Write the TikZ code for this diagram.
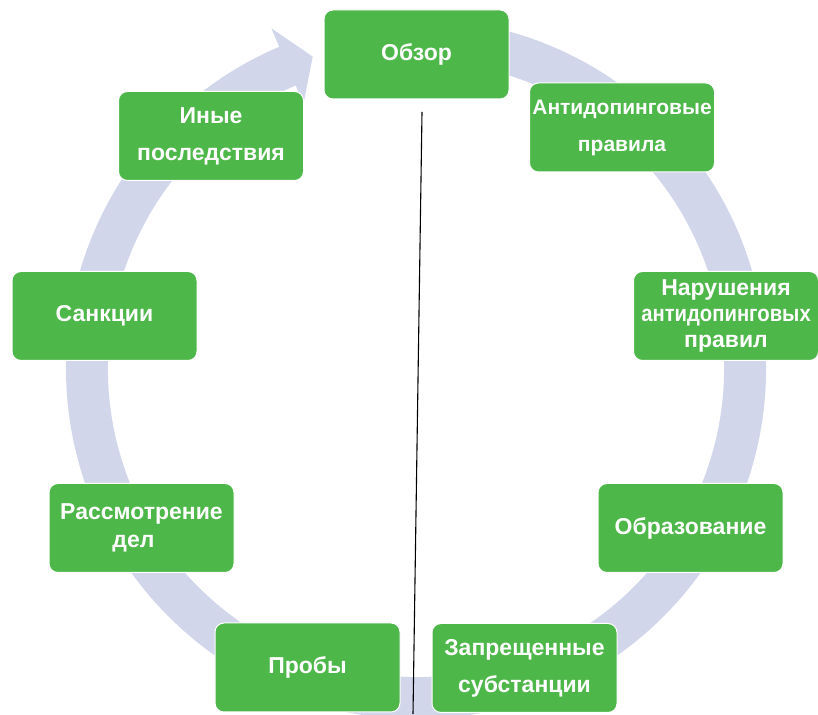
\documentclass[tikz,border=0pt]{standalone}
\usepackage{fontspec}
\setmainfont{Liberation Sans}
\definecolor{boxgreen}{RGB}{78,183,73}
\definecolor{ringc}{RGB}{209,214,235}
\tikzset{
  stagebox/.style={rectangle, rounded corners=9pt, fill=boxgreen, draw=white, line width=1pt,
    minimum width=185pt, minimum height=89pt, text=white, align=center,
    font=\bfseries\fontsize{23}{37}\selectfont, inner sep=2pt},
  smallbox/.style={stagebox, font=\bfseries\fontsize{21}{37}\selectfont},
  tightbox/.style={stagebox, font=\bfseries\fontsize{23}{26}\selectfont},
  midbox/.style={stagebox, font=\bfseries\fontsize{23}{28}\selectfont}
}
\begin{document}
\begin{tikzpicture}[x=1pt,y=1pt]
\useasboundingbox (0,0) rectangle (818,714);
\fill[white] (0,0) rectangle (818,714);
% circular arrow
\begin{scope}[shift={(416,345)}]
\fill[ringc] (95:350) arc[start angle=95, end angle=-247, radius=350]
  -- (-247:370) -- (-251.7:329) -- (-247:288) -- (-247:308)
  arc[start angle=-247, end angle=95, radius=308] -- cycle;
\end{scope}
% vertical line
\coordinate (ltop) at (422,602);
\coordinate (lbot) at (413,0);
\draw[black, line width=1.1pt] (ltop) -- (lbot);
% boxes
\node[stagebox] (n1) at (416.5,659.5) {Обзор};
\node[smallbox] (n2) at (622,586.5) {Антидопинговые\\правила};
\node[tightbox] (n3) at (726,398) {Нарушения\\\scalebox{0.88}[1]{антидопинговых}\\правил};
\node[stagebox] (n4) at (690.5,186) {Образование};
\node[stagebox] (n5) at (524.5,46) {Запрещенные\\субстанции};
\node[stagebox] (n6) at (307.5,46.5) {Пробы};
\node[midbox] (n7) at (141.5,186) {Рассмотрение\\дел\hspace*{16pt}};
\node[stagebox] (n8) at (104.5,398) {Санкции};
\node[stagebox] (n9) at (211,578) {Иные\\последствия};
\end{tikzpicture}
\end{document}
